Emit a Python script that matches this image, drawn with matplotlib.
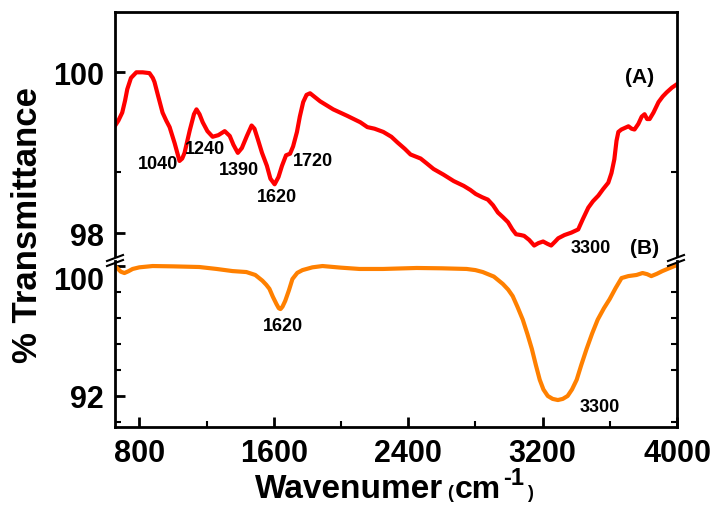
import matplotlib
matplotlib.use('agg')
import matplotlib.pyplot as plt
from matplotlib.lines import Line2D
import numpy as np

plt.rcParams['font.family'] = ['Liberation Sans', 'DejaVu Sans']
plt.rcParams['font.weight'] = 'bold'

# spectrum (A): wavenumber / % transmittance
wn_a = [650, 675, 698, 715, 728, 750, 782, 820, 860, 880, 890, 910, 938, 960,
        980, 1010, 1039, 1055, 1069, 1100, 1125, 1140, 1158, 1177, 1205, 1236,
        1270, 1308, 1338, 1360, 1386, 1410, 1440, 1468, 1485, 1505, 1530, 1559,
        1580, 1605, 1628, 1649, 1673, 1697, 1715, 1738, 1755, 1775, 1795, 1816,
        1840, 1876, 1954, 2037, 2115, 2157, 2200, 2252, 2300, 2336, 2380, 2414,
        2474, 2510, 2551, 2610, 2671, 2731, 2770, 2802, 2840, 2874, 2905, 2934,
        2965, 2994, 3020, 3042, 3070, 3090, 3120, 3150, 3175, 3203, 3230, 3251,
        3275, 3293, 3330, 3371, 3412, 3440, 3472, 3500, 3532, 3560, 3591, 3610,
        3627, 3640, 3651, 3669, 3690, 3711, 3730, 3747, 3770, 3790, 3807, 3822,
        3837, 3860, 3890, 3915, 3938, 3970, 3998]
tr_a = [99.32, 99.40, 99.50, 99.65, 99.79, 99.93, 100.0, 100.0, 99.99, 99.93,
        99.88, 99.72, 99.50, 99.40, 99.32, 99.12, 98.90, 98.93, 99.00, 99.28,
        99.48, 99.54, 99.48, 99.38, 99.27, 99.20, 99.22, 99.27, 99.21, 99.10,
        99.00, 99.06, 99.21, 99.34, 99.30, 99.17, 99.00, 98.84, 98.68, 98.61,
        98.70, 98.84, 98.97, 98.99, 99.08, 99.26, 99.45, 99.63, 99.72, 99.74,
        99.70, 99.64, 99.54, 99.46, 99.38, 99.32, 99.30, 99.26, 99.20, 99.13,
        99.05, 98.98, 98.93, 98.87, 98.80, 98.73, 98.65, 98.59, 98.54, 98.49,
        98.45, 98.42, 98.35, 98.26, 98.20, 98.14, 98.05, 97.99, 97.98, 97.97,
        97.92, 97.85, 97.88, 97.90, 97.87, 97.85, 97.90, 97.94, 97.98, 98.01,
        98.05, 98.18, 98.32, 98.40, 98.47, 98.55, 98.63, 98.75, 98.92, 99.15,
        99.26, 99.29, 99.31, 99.33, 99.30, 99.29, 99.36, 99.45, 99.48, 99.42,
        99.42, 99.50, 99.63, 99.70, 99.75, 99.81, 99.85]

# spectrum (B)
wn_b = [655, 670, 690, 711, 735, 760, 800, 879, 1000, 1157, 1260, 1354, 1437,
        1490, 1532, 1555, 1574, 1595, 1616, 1630, 1640, 1652, 1668, 1690, 1711,
        1740, 1771, 1830, 1890, 2000, 2110, 2250, 2451, 2600, 2748, 2800, 2844,
        2910, 2963, 2995, 3022, 3050, 3082, 3110, 3136, 3160, 3183, 3205, 3231,
        3260, 3291, 3320, 3349, 3375, 3403, 3430, 3462, 3495, 3528, 3565, 3599,
        3635, 3670, 3710, 3759, 3795, 3822, 3847, 3880, 3913, 3950, 3985]
tr_b = [100.0, 99.85, 99.65, 99.57, 99.68, 99.82, 99.92, 100.0, 99.98, 99.94,
        99.82, 99.69, 99.63, 99.45, 99.10, 98.85, 98.60, 98.10, 97.66, 97.40,
        97.35, 97.50, 97.85, 98.50, 99.20, 99.58, 99.75, 99.92, 100.0, 99.90,
        99.82, 99.82, 99.88, 99.86, 99.82, 99.75, 99.63, 99.35, 98.90, 98.55,
        98.15, 97.50, 96.70, 95.80, 94.90, 93.90, 93.00, 92.40, 92.00, 91.82,
        91.75, 91.82, 92.00, 92.40, 93.00, 93.90, 94.90, 95.85, 96.70, 97.40,
        97.96, 98.65, 99.26, 99.38, 99.45, 99.57, 99.50, 99.38, 99.52, 99.69,
        99.85, 100.0]

xticks = [800, 1600, 2400, 3200, 4000]
xminor = [1200, 2000, 2800, 3600]

peaks_a = ['1040', '1240', '1390', '1620', '1720', '3300']
peaks_a_pos = [(910, 98.87), (1190, 99.06), (1392, 98.79), (1618, 98.46),
               (1832, 98.90), (3486, 97.83)]
peaks_b = ['1620', '3300']
peaks_b_pos = [(1654, 96.31), (3540, 91.38)]

W, H = 713, 506
fig = plt.figure(figsize=(W / 100, H / 100), dpi=100)
ax1 = fig.add_axes([115 / W, 1 - 257 / H, 562 / W, 243.7 / H])
ax2 = fig.add_axes([115 / W, 1 - 428 / H, 562 / W, 166 / H], sharex=ax1)

ax1.plot(wn_a, tr_a, color='#ff0000', lw=3.0, solid_joinstyle='round')
ax2.plot(wn_b, tr_b, color='#ff8000', lw=3.0, solid_joinstyle='round')

ax1.set_xlim(655, 4000)
ax1.set_ylim(97.72, 100.745)
ax2.set_ylim(90.09, 100.31)

for ax in (ax1, ax2):
    for s in ax.spines.values():
        s.set_linewidth(2.0)
    ax.tick_params(which='major', direction='in', length=7, width=2,
                   labelsize=22, pad=8)
    ax.tick_params(which='minor', direction='in', length=4, width=1.5)
    ax.tick_params(axis='y', which='minor', right=True)

ax1.spines['bottom'].set_visible(False)
ax2.spines['top'].set_visible(False)
ax1.tick_params(axis='x', which='both', bottom=False, labelbottom=False)

ax1.set_yticks([98, 100])
ax1.set_yticks([98.76], minor=True)
ax2.set_yticks([92, 100])
ax2.set_yticklabels(['92', '100'])
ax2.get_yticklabels()[1].set_va('top')
ax2.set_yticks([98.4, 96.8, 95.2, 93.6, 90.4], minor=True)
ax2.set_xticks(xticks)
ax2.set_xticks(xminor, minor=True)
ax2.set_xticklabels([str(v) for v in xticks])

for lab, (x, y) in zip(peaks_a, peaks_a_pos):
    ax1.text(x, y, lab, fontsize=13, fontweight='bold', ha='center', va='center')
for lab, (x, y) in zip(peaks_b, peaks_b_pos):
    ax2.text(x, y, lab, fontsize=13, fontweight='bold', ha='center', va='center')
ax1.text(3777, 99.95, '(A)', fontsize=15, fontweight='bold', ha='center', va='center')
ax1.text(3807, 97.82, '(B)', fontsize=15, fontweight='bold', ha='center', va='center')

# axis break marks
for x0 in (107, 668):
    for dy in (0, 5):
        fig.add_artist(Line2D([x0 / W, (x0 + 16) / W],
                              [1 - (262 + dy) / H, 1 - (256 + dy) / H],
                              color='k', lw=1.5, transform=fig.transFigure))

fig.text(28 / W, 1 - 225 / H, '% Transmittance', rotation=90, fontsize=25,
         fontweight='bold', ha='center', va='center')

# x label built from pieces: small brackets, raised "-1"
xl_parts = [('Wavenumer', 255, 498, 24), ('(', 447, 498, 13),
            ('cm', 455, 498, 23), ('-1', 503, 485, 17), (')', 527, 498, 13)]
for txt, px, py, fs in xl_parts:
    fig.text(px / W, 1 - py / H, txt, fontsize=fs, fontweight='bold',
             ha='left', va='baseline')

fig.savefig('out.png', dpi=100)
